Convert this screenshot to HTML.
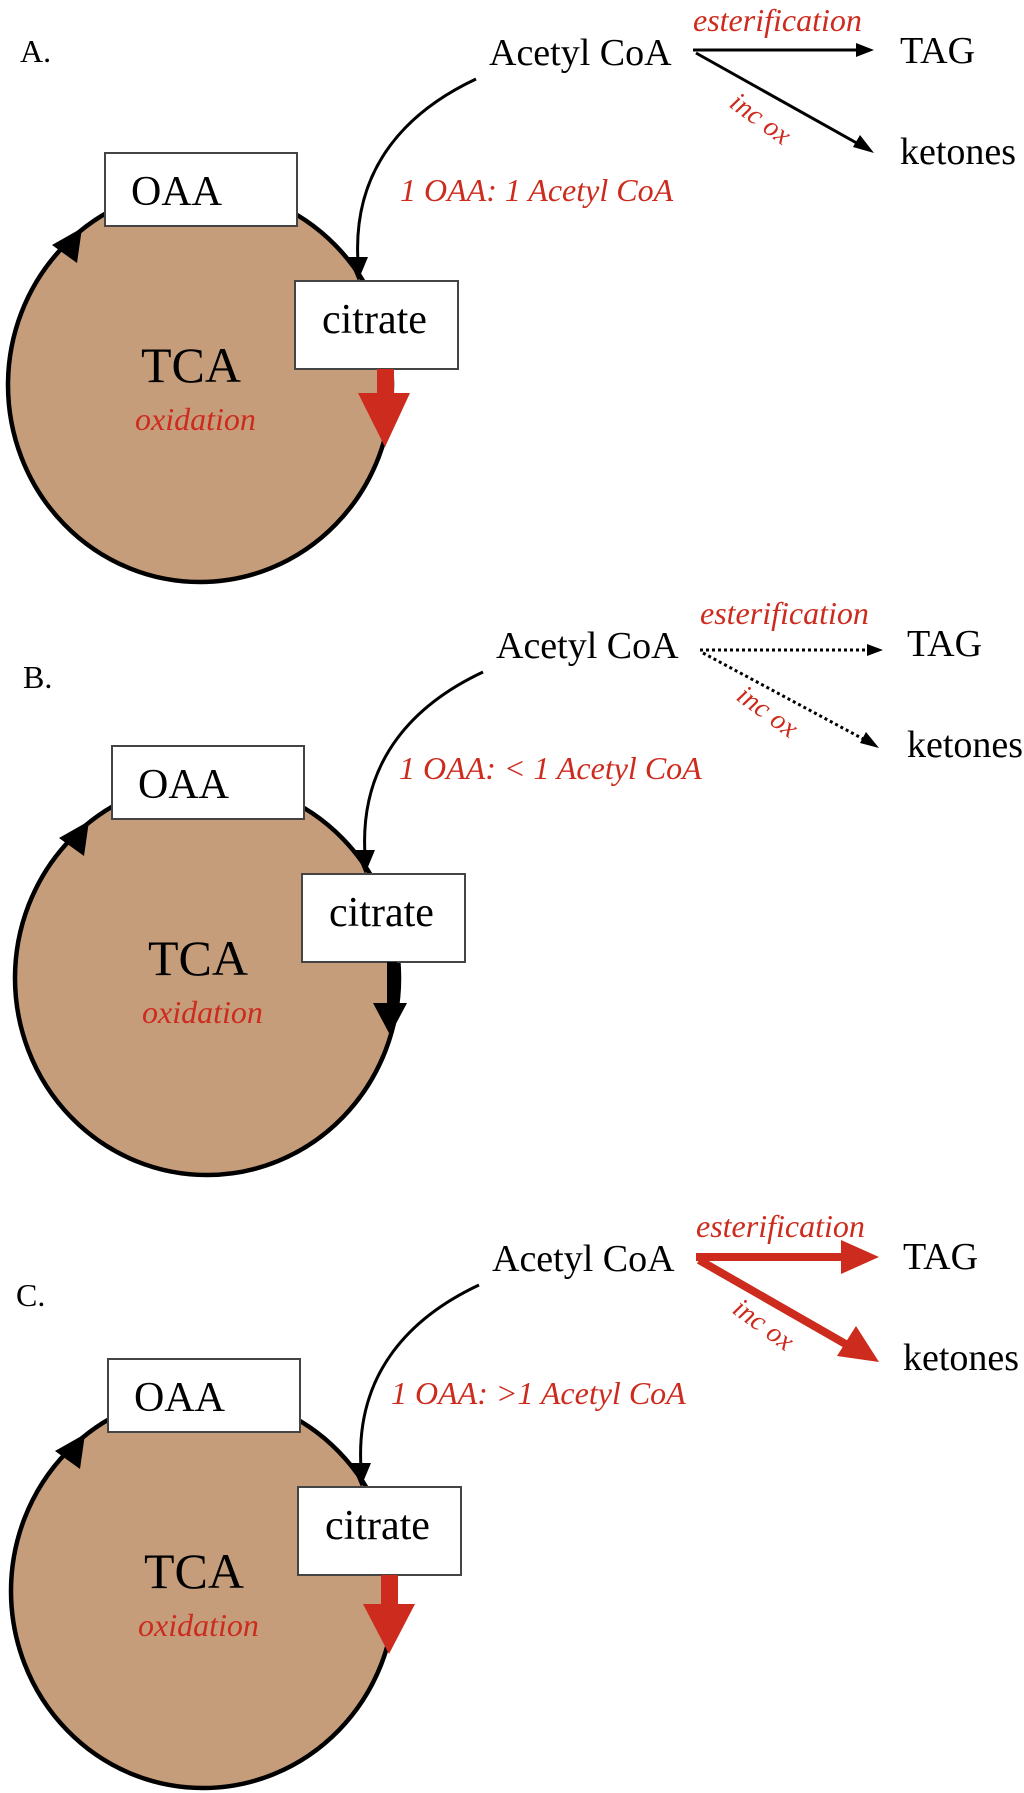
<!DOCTYPE html>
<html><head><meta charset="utf-8"><style>
html,body{margin:0;padding:0;background:#fff;}
svg{display:block;}
text{font-family:"Liberation Serif",serif;}
.r{fill:#cc2b1d;font-style:italic;}
</style></head><body>
<svg width="1024" height="1793" viewBox="0 0 1024 1793" xmlns="http://www.w3.org/2000/svg">
<defs>
<g id="base">
  <ellipse cx="200" cy="385" rx="192" ry="197" fill="#c69d7b" stroke="#000" stroke-width="4.5"/>
  <polygon points="82,228 52,245 77,263" fill="#000"/>
  <path d="M476,79 C410,110 352,165 358,262" fill="none" stroke="#000" stroke-width="3"/>
  <polygon points="348,257 368,257 358,281" fill="#000"/>
  <rect x="105" y="153" width="192" height="73" fill="#fff" stroke="#444" stroke-width="2"/>
  <text x="131" y="205" font-size="42">OAA</text>
  <rect x="295" y="281" width="163" height="88" fill="#fff" stroke="#444" stroke-width="2"/>
  <text x="322" y="333" font-size="42">citrate</text>
  <text x="141" y="382" font-size="50">TCA</text>
  <text x="135" y="430" font-size="32" class="r">oxidation</text>
  <text x="489" y="65" font-size="38">Acetyl CoA</text>
  <text x="693" y="31" font-size="32" class="r">esterification</text>
  <text x="900" y="63" font-size="38">TAG</text>
  <text x="900" y="164" font-size="38">ketones</text>
  <text x="0" y="0" font-size="28" class="r" transform="translate(728,106) rotate(36)">inc ox</text>
</g>
</defs>

<!-- Panel A -->
<g>
  <text x="20" y="62" font-size="32">A.</text>
  <use href="#base"/>
  <rect x="377" y="369" width="17" height="25" fill="#cc2b1d"/>
  <polygon points="358,393 410,393 385,447" fill="#cc2b1d"/>
  <line x1="693" y1="50" x2="860" y2="50" stroke="#000" stroke-width="3"/>
  <polygon points="874,50 856,43 856,57" fill="#000"/>
  <line x1="696" y1="53" x2="862" y2="146" stroke="#000" stroke-width="3"/>
  <polygon points="874,153 853,147 860,135" fill="#000"/>
  <text x="400" y="201" font-size="32" class="r">1 OAA: 1 Acetyl CoA</text>
</g>

<!-- Panel B -->
<g transform="translate(7,593)">
  <text x="16" y="95" font-size="32">B.</text>
  <use href="#base"/>
  <rect x="380" y="369" width="10" height="43" fill="#000"/>
  <polygon points="366,410 400,410 383,442" fill="#000"/>
  <line x1="693" y1="57" x2="862" y2="57" stroke="#000" stroke-width="3" stroke-dasharray="3,3"/>
  <polygon points="876,57 860,51 860,63" fill="#000"/>
  <line x1="696" y1="60" x2="860" y2="148" stroke="#000" stroke-width="3" stroke-dasharray="3,3"/>
  <polygon points="872,155 853,150 859,139" fill="#000"/>
  <text x="392" y="186" font-size="32" class="r">1 OAA: &lt; 1 Acetyl CoA</text>
</g>

<!-- Panel C -->
<g transform="translate(3,1206)">
  <text x="13" y="100" font-size="32">C.</text>
  <use href="#base"/>
  <rect x="378" y="369" width="17" height="30" fill="#cc2b1d"/>
  <polygon points="360,398 412,398 386,448" fill="#cc2b1d"/>
  <line x1="693" y1="51" x2="842" y2="51" stroke="#cc2b1d" stroke-width="8"/>
  <polygon points="876,51 838,34 838,68" fill="#cc2b1d"/>
  <line x1="696" y1="54" x2="846" y2="140" stroke="#cc2b1d" stroke-width="8"/>
  <polygon points="876,156 834,150 853,120" fill="#cc2b1d"/>
  <text x="388" y="198" font-size="32" class="r">1 OAA: &gt;1 Acetyl CoA</text>
</g>
</svg>
</body></html>
